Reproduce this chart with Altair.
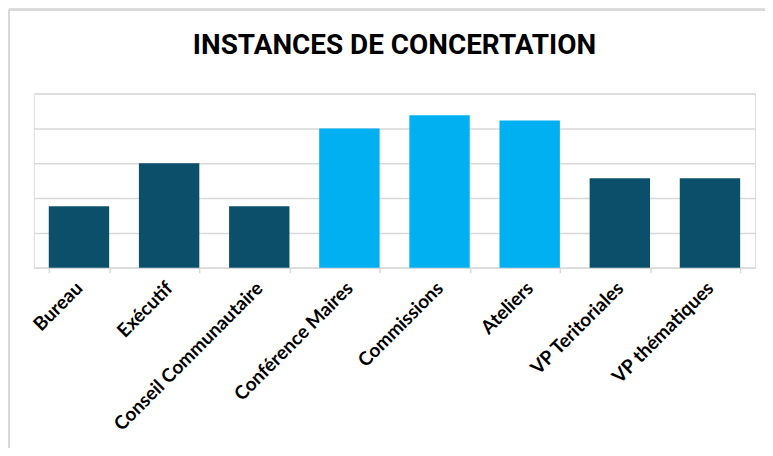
import altair as alt
import pandas as pd

categories = ["Bureau", "Exécutif", "Conseil Communautaire", "Conférence Maires",
              "Commissions", "Ateliers", "VP Teritoriales", "VP thématiques"]
values = [1.77, 3.0, 1.77, 4.0, 4.38, 4.23, 2.57, 2.57]
groups = ["a", "a", "a", "b", "b", "b", "a", "a"]

df = pd.DataFrame({"cat": categories, "val": values, "grp": groups})

GRID = "#d9d9d9"

bars = alt.Chart(df).mark_bar().encode(
    x=alt.X("cat:N", sort=categories, title=None,
            scale=alt.Scale(paddingInner=0.33, paddingOuter=0.165),
            axis=alt.Axis(labelAngle=-45, labelAlign="right", labelBaseline="middle",
                          labelFont="Lato", labelFontWeight="bold", labelFontSize=19,
                          labelColor="#000000", labelPadding=12, labelLimit=400,
                          tickBand="extent",
                          tickColor=GRID, tickSize=5, tickWidth=1.5,
                          domainColor=GRID, domainWidth=1.5, grid=False)),
    y=alt.Y("val:Q", title=None, scale=alt.Scale(domain=[0, 5], nice=False),
            axis=alt.Axis(values=[0, 1, 2, 3, 4, 5], labels=False, ticks=False,
                          domain=False, grid=True, gridColor=GRID, gridWidth=1.5)),
    color=alt.Color("grp:N", legend=None,
                    scale=alt.Scale(domain=["a", "b"], range=["#0B4F6A", "#00B0F0"])),
)

border_top = alt.Chart(df).mark_rule(color=GRID, strokeWidth=2).encode(
    x=alt.value(-25), x2=alt.value(800), y=alt.value(-84))
border_left = alt.Chart(df).mark_rule(color=GRID, strokeWidth=2).encode(
    x=alt.value(-25), y=alt.value(-84), y2=alt.value(400))

chart = alt.layer(border_top, border_left, bars).properties(
    width=724, height=175,
    title=alt.TitleParams("INSTANCES DE CONCERTATION", font="Roboto", fontSize=28,
                          fontWeight="bold", color="#000000", anchor="middle",
                          offset=-51),
    autosize=alt.AutoSizeParams(type="none"),
    padding={"left": 26, "top": 85, "right": 10, "bottom": 180},
).configure_view(stroke=None).configure(background="white")

chart.save("out.html", embed_options={"renderer": "svg", "actions": False})
